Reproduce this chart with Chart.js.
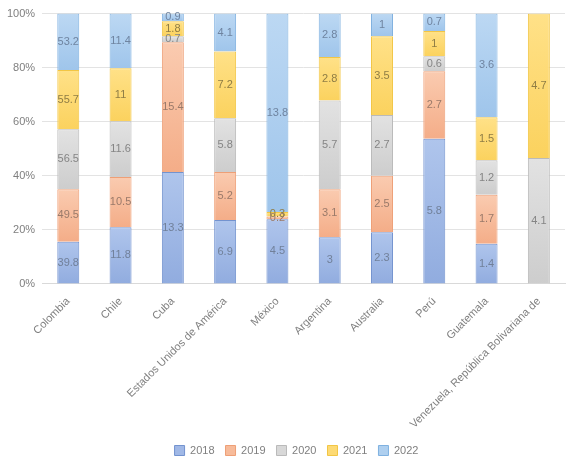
<!DOCTYPE html>
<html>
<head>
<meta charset="utf-8">
<script src="https://cdn.jsdelivr.net/npm/chart.js@4"></script>
<style>
  html, body { margin: 0; padding: 0; background: #fff; }
  #wrap { width: 571px; height: 466px; }
</style>
</head>
<body>
<div id="wrap"><canvas id="chart"></canvas></div>
<script>
const countries = ['Colombia', 'Chile', 'Cuba', 'Estados Unidos de América', 'México',
    'Argentina', 'Australia', 'Perú', 'Guatemala', 'Venezuela, República Bolivariana de'];
const years = ['2018', '2019', '2020', '2021', '2022'];

const v2018 = [39.8, 11.8, 13.3, 6.9, 4.5, 3, 2.3, 5.8, 1.4, 0];
const v2019 = [49.5, 10.5, 15.4, 5.2, 0.2, 3.1, 2.5, 2.7, 1.7, 0];
const v2020 = [56.5, 11.6, 0.7, 5.8, 0, 5.7, 2.7, 0.6, 1.2, 4.1];
const v2021 = [55.7, 11, 1.8, 7.2, 0.3, 2.8, 3.5, 1, 1.5, 4.7];
const v2022 = [53.2, 11.4, 0.9, 4.1, 13.8, 2.8, 1, 0.7, 3.6, 0];

const topColors = ['#afc5ec', '#facbb0', '#e2e2e2', '#ffe188', '#bcd8f3'];
const bottomColors = ['#91acdf', '#f4ad88', '#cdcdcd', '#fbd25e', '#9fc5eb'];
const fills = ['#a0b8e6', '#f7bb9a', '#d8d8d8', '#fdda74', '#aecfef'];
const borders = ['#7393cf', '#ee9f76', '#bababa', '#f2c645', '#7fb1e0'];
const textColors = ['#71809a', '#9a7a6a', '#858585', '#8f7d45', '#6f84a0'];

const series = [v2018, v2019, v2020, v2021, v2022];
const totals = countries.map((_, i) => series.reduce((s, arr) => s + arr[i], 0));

// each segment gets a light vertical gradient like the office-style fill
function segmentFill(d) {
    return ctx => {
        const chart = ctx.chart;
        if (!chart.chartArea || ctx.type !== 'data') return fills[d];
        const y = chart.scales.y;
        const i = ctx.dataIndex;
        let base = 0;
        for (let k = 0; k < d; k++) base += chart.data.datasets[k].data[i];
        const top = y.getPixelForValue(base + ctx.raw);
        const bottom = y.getPixelForValue(base);
        if (!isFinite(top) || !isFinite(bottom) || top === bottom) return fills[d];
        const g = chart.ctx.createLinearGradient(0, top, 0, bottom);
        g.addColorStop(0, topColors[d]);
        g.addColorStop(1, bottomColors[d]);
        return g;
    };
}

// bars are drawn as share of the country total (100% stacked)
const datasets = series.map((arr, d) => ({
    label: years[d],
    raw: arr,
    data: arr.map((v, i) => v / totals[i] * 100),
    backgroundColor: segmentFill(d),
    borderColor: borders[d],
    borderWidth: 1,
    barPercentage: 0.84,
    categoryPercentage: 0.5
}));

// simple value labels in the middle of each segment
const valueLabels = {
    id: 'valueLabels',
    afterDatasetsDraw(chart) {
        const ctx = chart.ctx;
        ctx.save();
        ctx.font = '11px "Liberation Sans", sans-serif';
        ctx.textAlign = 'center';
        ctx.textBaseline = 'middle';
        chart.data.datasets.forEach((ds, d) => {
            const meta = chart.getDatasetMeta(d);
            meta.data.forEach((bar, i) => {
                const v = ds.raw[i];
                if (!v) return;
                ctx.fillStyle = textColors[d];
                ctx.fillText(String(v), bar.x, (bar.y + bar.base) / 2);
            });
        });
        ctx.restore();
    }
};

// the legend in the original sits a little right of centre
const legendShift = {
    id: 'legendShift',
    afterLayout(chart) {
        if (chart.legend) {
            chart.legend.left += 14;
            chart.legend.right += 14;
        }
    }
};

new Chart(document.getElementById('chart').getContext('2d'), {
    type: 'bar',
    data: { labels: countries, datasets: datasets },
    options: {
        responsive: true,
        maintainAspectRatio: false,
        animation: false,
        layout: { padding: { top: 3, right: 6, left: 0, bottom: 0 } },
        scales: {
            x: {
                stacked: true,
                grid: { display: false },
                border: { color: '#d9d9d9' },
                ticks: {
                    color: '#7f7f7f',
                    font: { family: 'Liberation Sans', size: 11 },
                    maxRotation: 45,
                    minRotation: 45,
                    autoSkip: false
                }
            },
            y: {
                stacked: true,
                min: 0,
                max: 100,
                grid: { color: '#e3e3e3', drawTicks: false },
                border: { display: false },
                ticks: {
                    stepSize: 20,
                    padding: 7,
                    color: '#7f7f7f',
                    font: { family: 'Liberation Sans', size: 11 },
                    callback: v => v + '%'
                }
            }
        },
        plugins: {
            legend: {
                position: 'bottom',
                labels: {
                    boxWidth: 10,
                    boxHeight: 10,
                    padding: 11,
                    color: '#7f7f7f',
                    font: { family: 'Liberation Sans', size: 11 },
                    generateLabels: chart => chart.data.datasets.map((ds, d) => ({
                        text: ds.label,
                        fillStyle: fills[d],
                        strokeStyle: borders[d],
                        lineWidth: 1,
                        fontColor: '#7f7f7f',
                        hidden: false,
                        datasetIndex: d
                    }))
                }
            },
            tooltip: { enabled: false }
        }
    },
    plugins: [valueLabels, legendShift]
});
</script>
</body>
</html>
